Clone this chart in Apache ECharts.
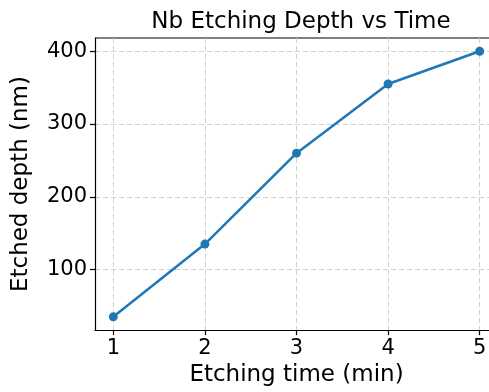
<!DOCTYPE html>
<html>
<head>
<meta charset="utf-8">
<script src="https://cdn.jsdelivr.net/npm/echarts@6/dist/echarts.min.js"></script>
<style>
  html, body { margin: 0; padding: 0; background: #fff; overflow: hidden; width: 489px; height: 392px; }
  /* plot frame runs slightly past the right edge of the page */
  #chart { width: 510px; height: 392px; }
</style>
</head>
<body>
<div id="chart"></div>
<script>
// Etching time (min) and measured Nb etch depth (nm)
const etchTimes = [1, 2, 3, 4, 5];
const etchDepths = [35, 135, 260, 355, 400];
const xTicks = [1, 2, 3, 4, 5];
const yTicks = [100, 200, 300, 400];

// 5% padding around the data range on both axes
const xPad = (Math.max(...etchTimes) - Math.min(...etchTimes)) * 0.05;
const yPad = (Math.max(...etchDepths) - Math.min(...etchDepths)) * 0.05;

const FONT = 'DejaVu Sans';
const gridLine = { show: true, lineStyle: { color: '#d0d0d0', type: [5, 3], width: 1 } };

const chart = echarts.init(document.getElementById('chart'), null, { renderer: 'canvas' });
chart.setOption({
  animation: false,
  title: {
    text: 'Nb Etching Depth vs Time',
    left: 296, top: 6, textAlign: 'center',
    textStyle: { fontFamily: FONT, fontSize: 23, fontWeight: 'normal', color: '#000' }
  },
  grid: { left: 95, top: 38, width: 403, height: 293, containLabel: false },
  xAxis: {
    type: 'value',
    min: Math.min(...etchTimes) - xPad,
    max: Math.max(...etchTimes) + xPad,
    name: 'Etching time (min)',
    nameLocation: 'middle',
    nameGap: 33,
    nameTextStyle: { fontFamily: FONT, fontSize: 23, color: '#000' },
    axisLine: { show: true, onZero: false, lineStyle: { color: '#000', width: 1.2 } },
    axisTick: { show: true, length: 5, customValues: xTicks, lineStyle: { color: '#000', width: 1.2 } },
    axisLabel: { customValues: xTicks, fontFamily: FONT, fontSize: 21, color: '#000', margin: 8 },
    splitLine: gridLine
  },
  yAxis: {
    type: 'value',
    min: Math.min(...etchDepths) - yPad,
    max: Math.max(...etchDepths) + yPad,
    name: 'Etched depth (nm)',
    nameLocation: 'middle',
    nameGap: 62,
    nameTextStyle: { fontFamily: FONT, fontSize: 23, color: '#000' },
    axisLine: { show: true, onZero: false, lineStyle: { color: '#000', width: 1.2 } },
    axisTick: { show: true, length: 5, customValues: yTicks, lineStyle: { color: '#000', width: 1.2 } },
    axisLabel: { customValues: yTicks, fontFamily: FONT, fontSize: 21, color: '#000', margin: 8 },
    splitLine: gridLine
  },
  series: [{
    type: 'line',
    data: etchTimes.map((t, i) => [t, etchDepths[i]]),
    symbol: 'circle',
    symbolSize: 9,
    lineStyle: { color: '#1f77b4', width: 2.5 },
    itemStyle: { color: '#1f77b4' },
    clip: false
  }],
  graphic: [{
    // top frame edge of the plot area
    type: 'line',
    shape: { x1: 95, y1: 38, x2: 498, y2: 38 },
    style: { stroke: '#000', lineWidth: 1.2 }
  }]
});
</script>
</body>
</html>
